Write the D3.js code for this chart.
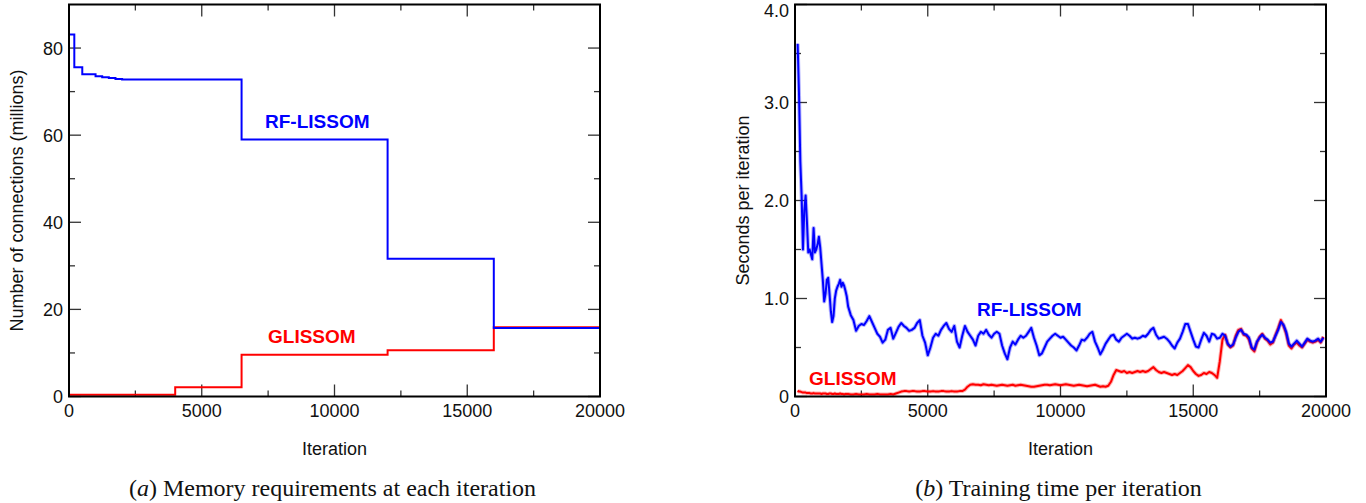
<!DOCTYPE html>
<html>
<head>
<meta charset="utf-8">
<script src="https://cdn.jsdelivr.net/npm/d3@7"></script>
<style>
  html, body { margin: 0; padding: 0; background: #fff; }
  svg { display: block; }
  .tick-label { font-family: "Liberation Sans", Arial, Helvetica, sans-serif; font-size: 18px; fill: #111; }
  .axis-title { font-family: "Liberation Sans", Arial, Helvetica, sans-serif; font-size: 18px; fill: #111; }
  .series-label { font-family: "Liberation Sans", Arial, Helvetica, sans-serif; font-size: 19px; font-weight: bold; }
  .caption { font-family: "Liberation Serif", "Times New Roman", serif; font-size: 24px; fill: #111; }
</style>
</head>
<body>
<svg id="chart" width="1366" height="503"></svg>
<script>
// ---------- (a) memory: connection counts (millions), step changes at iterations ----------
const rfMemIter = [0, 200, 500, 1000, 1250, 1500, 1750, 2000, 6500, 12000, 16000, 20000];
const rfMem     = [83.1, 75.6, 74.0, 73.5, 73.3, 73.1, 72.9, 72.8, 59.0, 31.6, 15.7, 15.7];
const glMemIter = [0, 4000, 6500, 12000, 16000, 20000];
const glMem     = [0.4, 2.1, 9.6, 10.6, 15.9, 15.9];

const memYTicks = [0, 20, 40, 60, 80];
const memYMinor = [10, 30, 50, 70];

// ---------- (b) training time: seconds per iteration ----------
const timeIter = d3.range(100, 2000, 50).concat(d3.range(2000, 19901, 100));

const rfTime = [
  // 100 .. 1950 (every 50)
  3.60, 3.10, 2.40, 2.04, 1.50, 1.90, 2.05, 1.78, 1.47, 1.50,
  1.45, 1.40, 1.72, 1.47, 1.50, 1.55, 1.63, 1.52, 1.35, 1.18,
  0.97, 1.05, 1.19, 1.21, 1.05, 0.87, 0.76, 0.82, 1.00, 1.08,
  1.12, 1.15, 1.19, 1.12, 1.16, 1.13, 1.08, 1.02,
  // 2000 .. 19900 (every 100)
  0.92, 0.83, 0.78, 0.67, 0.72, 0.74, 0.73, 0.77, 0.82, 0.76,
  0.70, 0.64, 0.61, 0.55, 0.58, 0.68, 0.70, 0.59, 0.65, 0.71,
  0.75, 0.72, 0.70, 0.67, 0.68, 0.70, 0.75, 0.78, 0.62, 0.55,
  0.42, 0.50, 0.60, 0.64, 0.62, 0.68, 0.72, 0.75, 0.69, 0.66,
  0.72, 0.56, 0.50, 0.62, 0.72, 0.66, 0.62, 0.58, 0.52, 0.62,
  0.66, 0.64, 0.68, 0.63, 0.60, 0.64, 0.66, 0.64, 0.52, 0.44,
  0.38, 0.50, 0.56, 0.53, 0.58, 0.62, 0.60, 0.62, 0.66, 0.70,
  0.60, 0.52, 0.42, 0.44, 0.50, 0.56, 0.59, 0.62, 0.64, 0.62,
  0.60, 0.61, 0.58, 0.55, 0.52, 0.50, 0.47, 0.52, 0.58, 0.57,
  0.60, 0.64, 0.66, 0.56, 0.50, 0.43, 0.48, 0.54, 0.58, 0.62,
  0.63, 0.58, 0.56, 0.60, 0.62, 0.64, 0.62, 0.59, 0.60, 0.59,
  0.60, 0.62, 0.61, 0.64, 0.68, 0.70, 0.63, 0.59, 0.60, 0.61,
  0.59, 0.56, 0.52, 0.49, 0.55, 0.59, 0.66, 0.74, 0.74, 0.66,
  0.58, 0.51, 0.50, 0.58, 0.65, 0.62, 0.56, 0.64, 0.63, 0.59,
  0.60, 0.64, 0.62, 0.54, 0.51, 0.53, 0.60, 0.66, 0.68, 0.64,
  0.63, 0.60, 0.50, 0.48, 0.56, 0.60, 0.63, 0.60, 0.58, 0.55,
  0.56, 0.62, 0.68, 0.76, 0.73, 0.66, 0.54, 0.51, 0.54, 0.57,
  0.54, 0.51, 0.55, 0.59, 0.57, 0.56, 0.57, 0.59, 0.56, 0.60
];

const glTime = [
  // 100 .. 1950 (every 50)
  0.06, 0.05, 0.05, 0.045, 0.04, 0.04, 0.04, 0.035, 0.035, 0.035,
  0.03, 0.03, 0.035, 0.03, 0.03, 0.03, 0.03, 0.03, 0.025, 0.03,
  0.03, 0.03, 0.025, 0.025, 0.03, 0.03, 0.025, 0.025, 0.03, 0.025,
  0.025, 0.025, 0.03, 0.025, 0.025, 0.02, 0.025, 0.025,
  // 2000 .. 19900 (every 100)
  0.025, 0.02, 0.02, 0.025, 0.02, 0.02, 0.02, 0.025, 0.02, 0.02,
  0.02, 0.025, 0.02, 0.02, 0.02, 0.02, 0.025, 0.02, 0.03, 0.04,
  0.05, 0.055, 0.055, 0.05, 0.055, 0.055, 0.05, 0.05, 0.055, 0.055,
  0.05, 0.05, 0.055, 0.05, 0.05, 0.055, 0.055, 0.05, 0.05, 0.055,
  0.05, 0.05, 0.055, 0.055, 0.07, 0.10, 0.12, 0.125, 0.12, 0.12,
  0.115, 0.125, 0.12, 0.115, 0.12, 0.115, 0.11, 0.115, 0.12, 0.115,
  0.11, 0.115, 0.12, 0.11, 0.115, 0.12, 0.115, 0.11, 0.105, 0.10,
  0.10, 0.105, 0.11, 0.115, 0.12, 0.12, 0.115, 0.12, 0.125, 0.12,
  0.115, 0.12, 0.125, 0.12, 0.115, 0.11, 0.115, 0.12, 0.115, 0.11,
  0.105, 0.11, 0.115, 0.12, 0.11, 0.10, 0.105, 0.10, 0.11, 0.15,
  0.22, 0.27, 0.26, 0.25, 0.26, 0.24, 0.25, 0.24, 0.25, 0.26,
  0.25, 0.26, 0.25, 0.26, 0.28, 0.30, 0.27, 0.25, 0.24, 0.25,
  0.24, 0.23, 0.22, 0.23, 0.22, 0.24, 0.26, 0.29, 0.32, 0.30,
  0.26, 0.23, 0.21, 0.22, 0.24, 0.23, 0.25, 0.24, 0.22, 0.19,
  0.36, 0.58, 0.63, 0.53, 0.50, 0.52, 0.62, 0.68, 0.69, 0.63,
  0.62, 0.58, 0.49, 0.46, 0.55, 0.61, 0.64, 0.59, 0.57, 0.53,
  0.55, 0.63, 0.70, 0.78, 0.72, 0.64, 0.52, 0.49, 0.53, 0.55,
  0.52, 0.50, 0.54, 0.58, 0.56, 0.55, 0.56, 0.58, 0.55, 0.61
];

const timeYTicks = [0, 1, 2, 3, 4];
const timeYLabels = ["0", "1.0", "2.0", "3.0", "4.0"];
const timeYMinor = [0.5, 1.5, 2.5, 3.5];

const iterTicks = [0, 5000, 10000, 15000, 20000];
const iterMinor = [2500, 7500, 12500, 17500];

const BLUE = "#0000ff", RED = "#ff0000";

const svg = d3.select("#chart");

function panel(opts) {
  const { left, right, top, bottom, yMax, yTicks, yLabels, yMinor, yTitle, caption, clipId } = opts;
  const x = d3.scaleLinear().domain([0, 20000]).range([left, right]);
  const y = d3.scaleLinear().domain([0, yMax]).range([bottom, top]);
  const g = svg.append("g");

  const MAJ = 12, MIN = 6;
  const tickStroke = "#333";
  // inward ticks on all four sides
  const tg = g.append("g").attr("stroke", tickStroke).attr("stroke-width", 1.3);
  iterTicks.concat(iterMinor).forEach(v => {
    const len = iterTicks.includes(v) ? MAJ : MIN;
    tg.append("line").attr("x1", x(v)).attr("x2", x(v)).attr("y1", bottom).attr("y2", bottom - len);
    tg.append("line").attr("x1", x(v)).attr("x2", x(v)).attr("y1", top).attr("y2", top + len);
  });
  yTicks.concat(yMinor).forEach(v => {
    const len = yTicks.includes(v) ? MAJ : MIN;
    tg.append("line").attr("y1", y(v)).attr("y2", y(v)).attr("x1", left).attr("x2", left + len);
    tg.append("line").attr("y1", y(v)).attr("y2", y(v)).attr("x1", right).attr("x2", right - len);
  });

  // tick labels (the topmost one is kept inside the page)
  iterTicks.forEach(v => {
    g.append("text").attr("class", "tick-label").attr("x", x(v)).attr("y", bottom + 20)
      .attr("text-anchor", "middle").text(d3.format("d")(v));
  });
  yTicks.forEach((v, i) => {
    g.append("text").attr("class", "tick-label").attr("x", left - 6)
      .attr("y", Math.max(y(v) + 6.5, 17))
      .attr("text-anchor", "end").text(yLabels[i]);
  });

  // titles
  g.append("text").attr("class", "axis-title").attr("x", (left + right) / 2).attr("y", bottom + 58)
    .attr("text-anchor", "middle").text("Iteration");
  g.append("text").attr("class", "axis-title")
    .attr("transform", `translate(${left - 46},${(top + bottom) / 2}) rotate(-90)`)
    .attr("text-anchor", "middle").text(yTitle);

  const cap = g.append("text").attr("class", "caption").attr("x", (left + right) / 2 - 2).attr("y", bottom + 99)
    .attr("text-anchor", "middle");
  cap.append("tspan").text("(");
  cap.append("tspan").attr("font-style", "italic").text(caption[0]);
  cap.append("tspan").text(") " + caption[1]);

  svg.append("clipPath").attr("id", clipId).append("rect")
    .attr("x", left).attr("y", top).attr("width", right - left).attr("height", bottom - top);

  return { x, y, g, frame: () => g.append("rect").attr("x", left).attr("y", top)
      .attr("width", right - left).attr("height", bottom - top)
      .attr("fill", "none").attr("stroke", "#000").attr("stroke-width", 2) };
}

// ---------- panel (a) ----------
const A = panel({
  left: 69, right: 600, top: 4.5, bottom: 396.5, yMax: 90,
  yTicks: memYTicks, yLabels: memYTicks.map(String), yMinor: memYMinor,
  yTitle: "Number of connections (millions)",
  caption: ["a", "Memory requirements at each iteration"], clipId: "clipA"
});
const stepLine = d3.line().curve(d3.curveStepAfter).x(d => A.x(d[0])).y(d => A.y(d[1]));
A.g.append("path").datum(d3.zip(glMemIter, glMem)).attr("d", stepLine)
  .attr("fill", "none").attr("stroke", RED).attr("stroke-width", 2).attr("clip-path", "url(#clipA)");
A.g.append("path").datum(d3.zip(rfMemIter, rfMem)).attr("d", stepLine)
  .attr("fill", "none").attr("stroke", BLUE).attr("stroke-width", 2).attr("clip-path", "url(#clipA)");
A.frame();
A.g.append("text").attr("class", "series-label").attr("fill", BLUE)
  .attr("x", 265).attr("y", 128).text("RF-LISSOM");
A.g.append("text").attr("class", "series-label").attr("fill", RED)
  .attr("x", 268).attr("y", 343).text("GLISSOM");

// ---------- panel (b) ----------
const B = panel({
  left: 795, right: 1326, top: 4.5, bottom: 396.5, yMax: 4,
  yTicks: timeYTicks, yLabels: timeYLabels, yMinor: timeYMinor,
  yTitle: "Seconds per iteration",
  caption: ["b", "Training time per iteration"], clipId: "clipB"
});
const timeLine = d3.line().x(d => B.x(d[0])).y(d => B.y(d[1]));
[[glTime, RED], [rfTime, BLUE]].forEach(([vals, color]) => {
  const pts = d3.zip(timeIter, vals);
  B.g.append("path").datum(pts).attr("d", timeLine).attr("fill", "none")
    .attr("stroke", color).attr("stroke-width", 4).attr("stroke-opacity", 0.3)
    .attr("stroke-linejoin", "round").attr("clip-path", "url(#clipB)");
  B.g.append("path").datum(pts).attr("d", timeLine).attr("fill", "none")
    .attr("stroke", color).attr("stroke-width", 2)
    .attr("stroke-linejoin", "round").attr("clip-path", "url(#clipB)");
});
B.frame();
B.g.append("text").attr("class", "series-label").attr("fill", BLUE)
  .attr("x", 977).attr("y", 316).text("RF-LISSOM");
B.g.append("text").attr("class", "series-label").attr("fill", RED)
  .attr("x", 809).attr("y", 385).text("GLISSOM");
</script>
</body>
</html>
